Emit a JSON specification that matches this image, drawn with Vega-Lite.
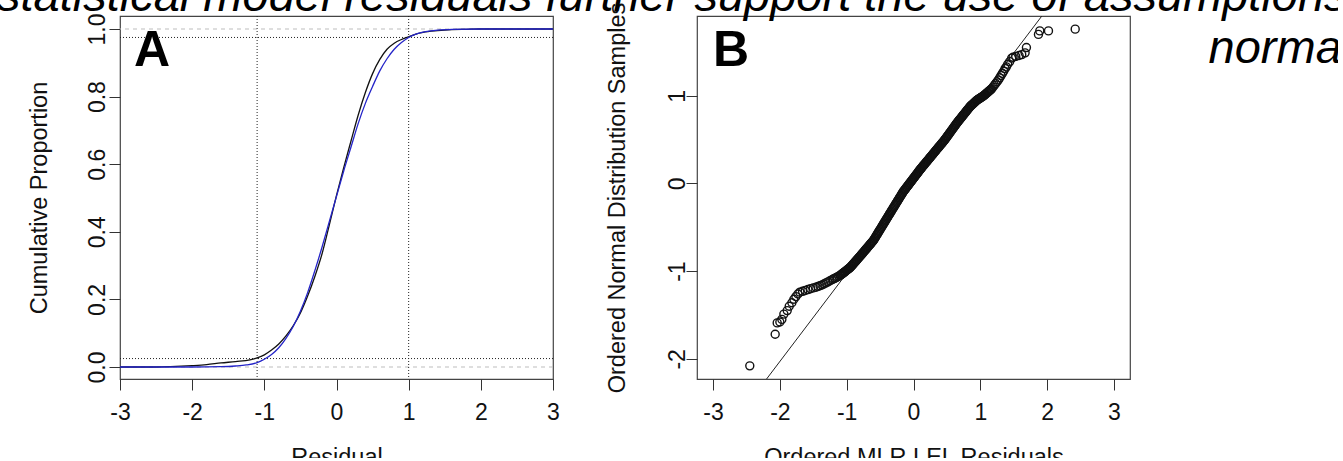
{
"$schema": "https://vega.github.io/schema/vega-lite/v6.json",
"background": "white",
"padding": {"left": -3, "top": -28, "right": -10, "bottom": -12},
"title": {"text": "statistical model residuals further support the use of assumptions", "anchor": "start", "frame": "group", "orient": "top", "font": "Liberation Sans", "fontSize": 47, "fontStyle": "italic", "fontWeight": "normal", "color": "black", "baseline": "alphabetic", "offset": 5, "dx": -123, "dy": 61},
"bounds": "flush",
"spacing": 144,
"datasets": {
"ecdf": [{"x":-3,"y":0},{"x":-2.5,"y":0},{"x":-2.3,"y":0.001},{"x":-2.0,"y":0.004},{"x":-1.8,"y":0.007},{"x":-1.6,"y":0.012},{"x":-1.4,"y":0.016},{"x":-1.2,"y":0.021},{"x":-1.1,"y":0.027},{"x":-1.0,"y":0.036},{"x":-0.9,"y":0.05},{"x":-0.8,"y":0.068},{"x":-0.7,"y":0.092},{"x":-0.6,"y":0.122},{"x":-0.5,"y":0.16},{"x":-0.4,"y":0.21},{"x":-0.3,"y":0.268},{"x":-0.2,"y":0.335},{"x":-0.1,"y":0.42},{"x":0,"y":0.508},{"x":0.1,"y":0.59},{"x":0.2,"y":0.668},{"x":0.3,"y":0.745},{"x":0.4,"y":0.812},{"x":0.5,"y":0.868},{"x":0.6,"y":0.91},{"x":0.7,"y":0.94},{"x":0.8,"y":0.958},{"x":0.9,"y":0.969},{"x":1.0,"y":0.977},{"x":1.1,"y":0.985},{"x":1.2,"y":0.99},{"x":1.4,"y":0.995},{"x":1.6,"y":0.998},{"x":1.8,"y":0.999},{"x":2.0,"y":1.0},{"x":3.0,"y":1.0}],
"fit": [{"x":-3,"y":0},{"x":-2,"y":0},{"x":-1.6,"y":0.001},{"x":-1.4,"y":0.003},{"x":-1.25,"y":0.006},{"x":-1.1,"y":0.013},{"x":-1.0,"y":0.023},{"x":-0.9,"y":0.037},{"x":-0.8,"y":0.057},{"x":-0.7,"y":0.085},{"x":-0.6,"y":0.12},{"x":-0.5,"y":0.165},{"x":-0.4,"y":0.22},{"x":-0.3,"y":0.285},{"x":-0.2,"y":0.355},{"x":-0.1,"y":0.43},{"x":0,"y":0.505},{"x":0.1,"y":0.58},{"x":0.2,"y":0.65},{"x":0.3,"y":0.72},{"x":0.4,"y":0.78},{"x":0.5,"y":0.83},{"x":0.6,"y":0.876},{"x":0.7,"y":0.912},{"x":0.8,"y":0.94},{"x":0.9,"y":0.96},{"x":1.0,"y":0.975},{"x":1.1,"y":0.985},{"x":1.2,"y":0.991},{"x":1.4,"y":0.997},{"x":1.6,"y":0.999},{"x":2.0,"y":1.0},{"x":3.0,"y":1.0}],
"qq": [{"x":-2.45,"y":-2.08},{"x":-2.07,"y":-1.72},{"x":-2.04,"y":-1.59},{"x":-2.0,"y":-1.58},{"x":-1.97,"y":-1.55},{"x":-1.94,"y":-1.49},{"x":-1.89,"y":-1.45},{"x":-1.86,"y":-1.4},{"x":-1.82,"y":-1.36},{"x":-1.79,"y":-1.32},{"x":-1.76,"y":-1.29},{"x":-1.73,"y":-1.26},{"x":-1.70,"y":-1.24},{"x":-1.66,"y":-1.23},{"x":-1.62,"y":-1.22},{"x":-1.58,"y":-1.21},{"x":-1.54,"y":-1.2},{"x":-1.5,"y":-1.191},{"x":-1.46,"y":-1.183},{"x":-1.43,"y":-1.175},{"x":-1.4,"y":-1.167},{"x":-1.37,"y":-1.158},{"x":-1.34,"y":-1.146},{"x":-1.31,"y":-1.134},{"x":-1.28,"y":-1.122},{"x":-1.25,"y":-1.11},{"x":-1.22,"y":-1.098},{"x":-1.2,"y":-1.09},{"x":-1.18,"y":-1.082},{"x":-1.16,"y":-1.074},{"x":-1.14,"y":-1.066},{"x":-1.12,"y":-1.058},
{"x":-1.1,"y":-1.05},{"x":-1.09,"y":-1.044},{"x":-1.08,"y":-1.038},{"x":-1.07,"y":-1.032},{"x":-1.06,"y":-1.026},{"x":-1.05,"y":-1.02},{"x":-1.04,"y":-1.014},{"x":-1.03,"y":-1.008},{"x":-1.02,"y":-1.002},{"x":-1.01,"y":-0.996},{"x":-1.0,"y":-0.99},{"x":-0.99,"y":-0.984},{"x":-0.98,"y":-0.978},{"x":-0.97,"y":-0.972},{"x":-0.96,"y":-0.966},{"x":-0.95,"y":-0.96},
{"x":-0.94,"y":-0.951},{"x":-0.93,"y":-0.943},{"x":-0.92,"y":-0.934},{"x":-0.91,"y":-0.925},{"x":-0.9,"y":-0.917},{"x":-0.89,"y":-0.908},{"x":-0.88,"y":-0.899},{"x":-0.87,"y":-0.891},{"x":-0.86,"y":-0.882},{"x":-0.85,"y":-0.873},{"x":-0.84,"y":-0.865},{"x":-0.83,"y":-0.856},{"x":-0.82,"y":-0.847},{"x":-0.81,"y":-0.839},{"x":-0.8,"y":-0.83},
{"x":-0.79,"y":-0.821},{"x":-0.78,"y":-0.812},{"x":-0.77,"y":-0.803},{"x":-0.76,"y":-0.794},{"x":-0.75,"y":-0.785},{"x":-0.74,"y":-0.776},{"x":-0.73,"y":-0.767},{"x":-0.72,"y":-0.758},{"x":-0.71,"y":-0.749},{"x":-0.7,"y":-0.74},{"x":-0.69,"y":-0.731},{"x":-0.68,"y":-0.722},{"x":-0.67,"y":-0.713},{"x":-0.66,"y":-0.704},{"x":-0.65,"y":-0.695},{"x":-0.64,"y":-0.686},{"x":-0.63,"y":-0.677},{"x":-0.62,"y":-0.668},{"x":-0.61,"y":-0.659},{"x":-0.6,"y":-0.65},
{"x":-0.59,"y":-0.638},{"x":-0.58,"y":-0.625},{"x":-0.57,"y":-0.613},{"x":-0.56,"y":-0.6},{"x":-0.55,"y":-0.588},{"x":-0.54,"y":-0.575},{"x":-0.53,"y":-0.563},{"x":-0.52,"y":-0.55},{"x":-0.51,"y":-0.538},{"x":-0.5,"y":-0.525},{"x":-0.49,"y":-0.513},{"x":-0.48,"y":-0.5},{"x":-0.47,"y":-0.488},{"x":-0.46,"y":-0.475},{"x":-0.45,"y":-0.463},{"x":-0.44,"y":-0.45},{"x":-0.43,"y":-0.438},{"x":-0.42,"y":-0.425},{"x":-0.41,"y":-0.413},{"x":-0.4,"y":-0.4},
{"x":-0.39,"y":-0.388},{"x":-0.38,"y":-0.375},{"x":-0.37,"y":-0.363},{"x":-0.36,"y":-0.35},{"x":-0.35,"y":-0.338},{"x":-0.34,"y":-0.326},{"x":-0.33,"y":-0.313},{"x":-0.32,"y":-0.301},{"x":-0.31,"y":-0.288},{"x":-0.3,"y":-0.276},{"x":-0.29,"y":-0.264},{"x":-0.28,"y":-0.251},{"x":-0.27,"y":-0.239},{"x":-0.26,"y":-0.226},{"x":-0.25,"y":-0.214},{"x":-0.24,"y":-0.202},{"x":-0.23,"y":-0.189},{"x":-0.22,"y":-0.177},{"x":-0.21,"y":-0.164},{"x":-0.2,"y":-0.152},{"x":-0.19,"y":-0.14},{"x":-0.18,"y":-0.127},{"x":-0.17,"y":-0.115},{"x":-0.16,"y":-0.102},{"x":-0.15,"y":-0.09},
{"x":-0.14,"y":-0.08},{"x":-0.13,"y":-0.07},{"x":-0.12,"y":-0.06},{"x":-0.11,"y":-0.05},{"x":-0.1,"y":-0.04},{"x":-0.09,"y":-0.03},{"x":-0.08,"y":-0.02},{"x":-0.07,"y":-0.01},{"x":-0.06,"y":0.0},{"x":-0.05,"y":0.01},{"x":-0.04,"y":0.02},{"x":-0.03,"y":0.03},{"x":-0.02,"y":0.04},{"x":-0.01,"y":0.05},{"x":0.0,"y":0.06},{"x":0.01,"y":0.07},{"x":0.02,"y":0.08},{"x":0.03,"y":0.09},{"x":0.04,"y":0.1},{"x":0.05,"y":0.11},{"x":0.06,"y":0.12},{"x":0.07,"y":0.13},{"x":0.08,"y":0.14},{"x":0.09,"y":0.15},{"x":0.1,"y":0.16},
{"x":0.11,"y":0.169},{"x":0.12,"y":0.178},{"x":0.13,"y":0.188},{"x":0.14,"y":0.197},{"x":0.15,"y":0.206},{"x":0.16,"y":0.215},{"x":0.17,"y":0.224},{"x":0.18,"y":0.234},{"x":0.19,"y":0.243},{"x":0.2,"y":0.252},{"x":0.21,"y":0.261},{"x":0.22,"y":0.27},{"x":0.23,"y":0.279},{"x":0.24,"y":0.289},{"x":0.25,"y":0.298},{"x":0.26,"y":0.307},{"x":0.27,"y":0.316},{"x":0.28,"y":0.325},{"x":0.29,"y":0.335},{"x":0.3,"y":0.344},{"x":0.31,"y":0.353},{"x":0.32,"y":0.362},{"x":0.33,"y":0.371},{"x":0.34,"y":0.381},{"x":0.35,"y":0.39},{"x":0.36,"y":0.399},{"x":0.37,"y":0.408},{"x":0.38,"y":0.417},{"x":0.39,"y":0.426},{"x":0.4,"y":0.436},{"x":0.41,"y":0.445},{"x":0.42,"y":0.454},{"x":0.43,"y":0.463},{"x":0.44,"y":0.472},{"x":0.45,"y":0.482},{"x":0.46,"y":0.491},{"x":0.47,"y":0.5},
{"x":0.48,"y":0.511},{"x":0.49,"y":0.521},{"x":0.5,"y":0.532},{"x":0.51,"y":0.542},{"x":0.52,"y":0.553},{"x":0.53,"y":0.563},{"x":0.54,"y":0.574},{"x":0.55,"y":0.584},{"x":0.56,"y":0.595},{"x":0.57,"y":0.606},{"x":0.58,"y":0.616},{"x":0.59,"y":0.627},{"x":0.6,"y":0.637},{"x":0.61,"y":0.648},{"x":0.62,"y":0.658},{"x":0.63,"y":0.669},{"x":0.64,"y":0.679},{"x":0.65,"y":0.69},
{"x":0.66,"y":0.7},{"x":0.67,"y":0.709},{"x":0.68,"y":0.719},{"x":0.69,"y":0.728},{"x":0.7,"y":0.738},{"x":0.71,"y":0.747},{"x":0.72,"y":0.757},{"x":0.73,"y":0.766},{"x":0.74,"y":0.776},{"x":0.75,"y":0.785},{"x":0.76,"y":0.795},{"x":0.77,"y":0.804},{"x":0.78,"y":0.814},{"x":0.79,"y":0.823},{"x":0.8,"y":0.833},{"x":0.81,"y":0.842},{"x":0.82,"y":0.852},{"x":0.83,"y":0.861},{"x":0.84,"y":0.871},{"x":0.85,"y":0.88},
{"x":0.86,"y":0.887},{"x":0.87,"y":0.894},{"x":0.88,"y":0.901},{"x":0.89,"y":0.908},{"x":0.9,"y":0.915},{"x":0.91,"y":0.922},{"x":0.92,"y":0.929},{"x":0.93,"y":0.936},{"x":0.94,"y":0.943},{"x":0.95,"y":0.95},{"x":0.96,"y":0.955},{"x":0.97,"y":0.96},{"x":0.98,"y":0.965},{"x":0.99,"y":0.97},{"x":1.0,"y":0.975},{"x":1.01,"y":0.98},{"x":1.02,"y":0.985},{"x":1.03,"y":0.99},{"x":1.04,"y":0.995},{"x":1.05,"y":1.0},
{"x":1.06,"y":1.007},{"x":1.07,"y":1.013},{"x":1.08,"y":1.02},{"x":1.09,"y":1.027},{"x":1.1,"y":1.033},{"x":1.11,"y":1.04},{"x":1.12,"y":1.047},{"x":1.13,"y":1.053},{"x":1.14,"y":1.06},{"x":1.15,"y":1.067},{"x":1.16,"y":1.073},{"x":1.17,"y":1.08},
{"x":1.19,"y":1.1},{"x":1.21,"y":1.12},{"x":1.23,"y":1.14},{"x":1.25,"y":1.16},{"x":1.27,"y":1.18},{"x":1.29,"y":1.205},{"x":1.31,"y":1.23},{"x":1.33,"y":1.255},{"x":1.35,"y":1.28},{"x":1.37,"y":1.31},{"x":1.39,"y":1.33},{"x":1.41,"y":1.36},{"x":1.44,"y":1.39},{"x":1.47,"y":1.43},{"x":1.49,"y":1.44},{"x":1.53,"y":1.45},{"x":1.58,"y":1.46},{"x":1.62,"y":1.47},{"x":1.67,"y":1.49},{"x":1.69,"y":1.55},{"x":1.87,"y":1.7},{"x":1.89,"y":1.74},{"x":2.02,"y":1.74},{"x":2.42,"y":1.76}]
},
"hconcat": [
{
"width": 433, "height": 363,
"layer": [
{"data": {"values": [{"y": 0}, {"y": 1}]}, "mark": {"type": "rule", "color": "#bdbdbd", "strokeWidth": 1, "strokeDash": [4, 4]},
 "encoding": {"y": {"field": "y", "type": "quantitative", "scale": {"domain": [-0.0355, 1.0385], "nice": false, "zero": false},
  "axis": {"values": [0, 0.2, 0.4, 0.6, 0.8, 1.0], "format": ".1f", "title": "Cumulative Proportion", "labelAngle": 270, "labelAlign": "center", "labelBaseline": "alphabetic", "labelPadding": 5, "titlePadding": 35}}}},
{"data": {"values": [{"y": 0.025}, {"y": 0.975}]}, "mark": {"type": "rule", "color": "#222222", "strokeWidth": 1, "strokeDash": [1, 2]},
 "encoding": {"y": {"field": "y", "type": "quantitative"}}},
{"data": {"values": [{"x": -1.1}, {"x": 1.0}]}, "mark": {"type": "rule", "color": "#222222", "strokeWidth": 1, "strokeDash": [1, 2]},
 "encoding": {"x": {"field": "x", "type": "quantitative", "scale": {"domain": [-3, 3], "nice": false, "zero": false},
  "axis": {"values": [-3, -2, -1, 0, 1, 2, 3], "labelExpr": "'' + datum.value", "title": "Residual", "labelPadding": 11, "titlePadding": 21}}}},
{"data": {"name": "ecdf"}, "mark": {"type": "line", "color": "#111111", "strokeWidth": 1.3, "interpolate": "monotone"},
 "encoding": {"x": {"field": "x", "type": "quantitative"}, "y": {"field": "y", "type": "quantitative"}}},
{"data": {"name": "fit"}, "mark": {"type": "line", "color": "#2424c8", "strokeWidth": 1.3, "interpolate": "monotone"},
 "encoding": {"x": {"field": "x", "type": "quantitative"}, "y": {"field": "y", "type": "quantitative"}}},
{"data": {"values": [{"label": "A", "x": -2.806, "y": 0.8905}]}, "mark": {"type": "text", "font": "Liberation Sans", "fontSize": 50, "fontWeight": "bold", "align": "left", "baseline": "alphabetic", "color": "black"},
 "encoding": {"x": {"field": "x", "type": "quantitative"}, "y": {"field": "y", "type": "quantitative"}, "text": {"field": "label"}}}
]
},
{
"width": 433, "height": 363,
"layer": [
{"data": {"values": [{"x": -2.4, "y": -2.432, "x2": 2.1, "y2": 2.09}]}, "mark": {"type": "rule", "color": "#222222", "strokeWidth": 1, "clip": true},
 "encoding": {"x": {"field": "x", "type": "quantitative", "scale": {"domain": [-3.24, 3.24], "nice": false, "zero": false},
   "axis": {"values": [-3, -2, -1, 0, 1, 2, 3], "labelExpr": "'' + datum.value", "title": "Ordered MLR LEL Residuals", "labelPadding": 11, "titlePadding": 21}},
  "y": {"field": "y", "type": "quantitative", "scale": {"domain": [-2.23, 1.91], "nice": false, "zero": false},
   "axis": {"values": [-2, -1, 0, 1], "labelExpr": "'' + datum.value", "title": "Ordered Normal Distribution Samples", "labelAngle": 270, "labelAlign": "center", "labelBaseline": "alphabetic", "labelPadding": 2, "titlePadding": 37}},
  "x2": {"field": "x2"}, "y2": {"field": "y2"}}},
{"data": {"name": "qq"}, "mark": {"type": "point", "shape": "circle", "filled": false, "color": "#111111", "size": 64, "strokeWidth": 1.4, "opacity": 1},
 "encoding": {"x": {"field": "x", "type": "quantitative"}, "y": {"field": "y", "type": "quantitative"}}},
{"data": {"values": [{"label": "B", "x": -3.0, "y": 1.34}]}, "mark": {"type": "text", "font": "Liberation Sans", "fontSize": 50, "fontWeight": "bold", "align": "left", "baseline": "alphabetic", "color": "black"},
 "encoding": {"x": {"field": "x", "type": "quantitative"}, "y": {"field": "y", "type": "quantitative"}, "text": {"field": "label"}}},
{"data": {"values": [{"label": "norma", "x": 6.41, "y": 1.374}]}, "mark": {"type": "text", "font": "Liberation Sans", "fontSize": 47, "fontStyle": "italic", "fontWeight": "normal", "align": "right", "baseline": "alphabetic", "color": "black", "clip": false},
 "encoding": {"x": {"field": "x", "type": "quantitative"}, "y": {"field": "y", "type": "quantitative"}, "text": {"field": "label"}}}
]
}
],
"config": {
 "font": "Liberation Sans",
 "view": {"stroke": "#444444", "strokeWidth": 1.2},
 "axis": {"domain": false, "grid": false, "ticks": true, "tickColor": "#333333", "tickSize": 11, "tickWidth": 1, "labelFont": "Liberation Sans", "labelFontSize": 23, "labelColor": "#111111", "labelFlush": false, "labelOverlap": false, "titleFont": "Liberation Sans", "titleFontSize": 23.5, "titleFontWeight": "normal", "titleColor": "#111111"}
}
}
